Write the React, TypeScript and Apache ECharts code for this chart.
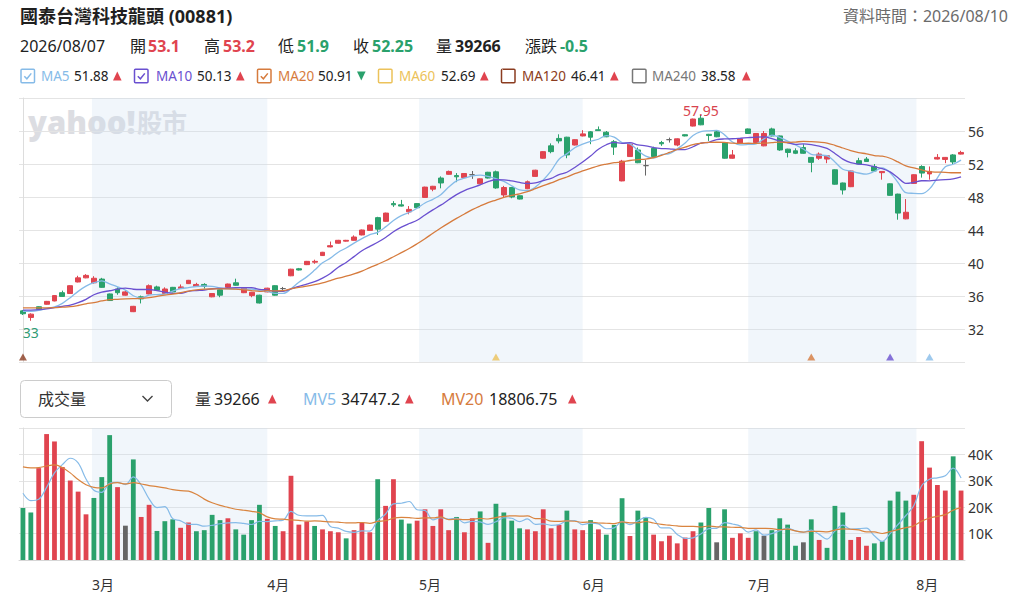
import React, { useEffect, useRef } from "react";
import * as echarts from "echarts";

// ---------- data ----------
// [open, close, lowest, highest]
const candles: number[][] = [
  [34.2, 33.85, 33.7, 34.3], [33.4, 33.8, 33.0, 33.9], [34.7, 34.4, 34.35, 34.75], [35.0, 35.35, 34.95, 35.4],
  [35.4, 36.05, 35.35, 36.1], [36.4, 35.95, 35.9, 36.65], [36.3, 37.25, 36.25, 37.3], [37.7, 38.2, 37.65, 38.45],
  [38.2, 38.5, 38.15, 38.65], [37.6, 38.15, 37.5, 38.4], [38.05, 37.05, 37.0, 38.2], [36.25, 35.45, 35.4, 36.3],
  [36.85, 36.4, 36.15, 37.05], [36.1, 36.5, 36.05, 36.7], [34.1, 34.75, 34.05, 34.8], [35.9, 35.65, 35.1, 36.05],
  [36.25, 37.25, 36.2, 37.4], [37.1, 36.7, 36.65, 37.25], [36.3, 36.85, 36.25, 37.05], [37.05, 36.5, 36.45, 37.1],
  [36.9, 37.1, 36.85, 37.4], [37.5, 37.9, 37.45, 37.95], [37.15, 37.4, 37.1, 37.6], [37.4, 37.15, 36.9, 37.55],
  [35.9, 36.3, 35.85, 36.35], [36.75, 36.1, 35.85, 36.8], [37.05, 37.45, 37.0, 37.5], [37.6, 37.3, 37.25, 38.1],
  [36.4, 36.95, 36.35, 37.0], [36.05, 36.45, 35.85, 36.5], [36.1, 35.15, 35.1, 36.15], [36.5, 36.95, 36.45, 37.0],
  [37.25, 36.1, 36.05, 37.3], [36.9, 36.9, 36.65, 37.1], [38.45, 39.25, 38.4, 39.3], [39.3, 39.15, 39.1, 39.4],
  [39.8, 40.2, 39.75, 40.25], [40.1, 40.2, 39.9, 40.4], [40.9, 41.3, 40.85, 41.35], [41.95, 42.1, 41.9, 42.6],
  [42.4, 42.75, 42.35, 42.8], [42.65, 42.75, 42.6, 42.8], [42.75, 43.15, 42.7, 43.35], [43.4, 44.0, 43.35, 44.05],
  [43.95, 44.6, 43.9, 44.65], [45.5, 44.1, 43.4, 45.6], [45.05, 46.05, 45.0, 46.1], [47.2, 47.05, 46.8, 47.5],
  [47.05, 46.9, 46.85, 47.65], [46.2, 46.5, 45.9, 46.9], [47.2, 46.7, 46.65, 47.25], [47.95, 49.2, 47.9, 49.25],
  [48.95, 49.3, 48.7, 49.35], [50.3, 49.7, 49.05, 50.5], [50.75, 51.1, 50.7, 51.2], [50.6, 50.45, 49.8, 50.9],
  [50.35, 50.85, 50.3, 50.9], [50.7, 50.7, 50.2, 51.15], [49.6, 50.2, 49.55, 50.25], [51.0, 50.3, 50.25, 51.05],
  [51.05, 49.1, 49.0, 51.2], [48.25, 49.15, 48.0, 49.35], [49.15, 48.0, 47.85, 49.2], [48.15, 47.75, 47.7, 48.2],
  [49.0, 49.85, 48.95, 50.0], [50.5, 51.25, 50.45, 51.3], [52.7, 53.5, 52.65, 53.55], [54.2, 53.5, 53.3, 54.5],
  [55.1, 54.8, 54.5, 55.6], [55.25, 53.1, 52.7, 55.3], [54.3, 54.95, 54.25, 55.0], [55.4, 55.65, 55.35, 56.1],
  [55.9, 55.25, 54.4, 56.0], [56.15, 56.05, 56.0, 56.55], [55.85, 55.3, 55.25, 56.0], [54.7, 54.05, 53.1, 54.9],
  [49.95, 52.35, 49.9, 52.5], [52.9, 54.4, 52.85, 54.6], [53.7, 52.15, 52.1, 54.0], [51.8, 51.8, 50.6, 52.5],
  [53.9, 52.9, 52.85, 54.1], [54.6, 54.45, 54.2, 54.8], [54.95, 54.95, 54.6, 55.2], [54.3, 55.05, 54.15, 55.1],
  [55.55, 55.4, 55.35, 55.6], [56.6, 57.45, 56.55, 57.5], [57.55, 56.75, 56.7, 57.95], [55.6, 55.45, 54.8, 55.65],
  [55.9, 55.3, 55.25, 56.0], [54.6, 52.7, 52.65, 54.65], [52.7, 53.1, 52.65, 53.7], [54.5, 55.05, 54.45, 55.1],
  [56.25, 55.7, 55.65, 56.3], [54.6, 55.7, 54.55, 55.75], [54.2, 55.7, 54.15, 56.0], [56.25, 55.4, 55.35, 56.4],
  [55.4, 53.7, 53.6, 55.45], [53.8, 53.4, 52.8, 53.85], [53.6, 53.3, 53.2, 53.9], [54.0, 53.3, 53.25, 54.4],
  [52.8, 52.2, 51.0, 52.85], [52.7, 53.2, 52.5, 53.4], [52.6, 53.0, 52.1, 53.05], [51.3, 49.55, 49.5, 51.35],
  [49.7, 48.85, 48.3, 49.75], [49.25, 51.15, 49.2, 51.2], [52.4, 52.0, 51.95, 52.75], [52.6, 52.3, 52.25, 52.85],
  [51.7, 51.15, 51.1, 52.0], [50.95, 51.1, 50.1, 51.15], [49.6, 48.2, 48.15, 49.65], [48.35, 46.05, 45.25, 48.4],
  [45.35, 46.15, 45.3, 47.75], [49.65, 50.7, 49.6, 50.75], [51.7, 50.9, 50.35, 51.85], [50.8, 51.1, 50.1, 51.7],
  [52.6, 52.8, 52.55, 53.2], [52.55, 52.8, 52.1, 52.85], [53.1, 52.25, 51.9, 53.2], [53.2, 53.4, 53.15, 53.6],
];

const volumes: number[] = [
  19700, 18000, 34800, 47700, 44900, 35200, 30100, 25900, 17300, 23500,
  31400, 47300, 27600, 13000, 38100, 16300, 20900, 11000, 14700, 15400,
  12200, 14200, 10900, 11300, 17100, 15100, 15800, 11600, 9600, 15100,
  20900, 15600, 12900, 10900, 31900, 13400, 14600, 12900, 11600, 10900,
  10500, 8200, 11300, 14200, 10500, 30600, 20500, 30600, 15300, 13800,
  14900, 19200, 12900, 19200, 11300, 16300, 10500, 15800, 18400, 6500,
  21300, 18000, 14900, 12000, 11600, 10900, 19200, 12000, 13300, 18700,
  11600, 11300, 15100, 11600, 9600, 13300, 23400, 9100, 18700, 16200,
  9600, 7100, 9200, 6300, 8500, 10900, 14200, 19700, 6700, 19200,
  8400, 10100, 8400, 10900, 9200, 11300, 15800, 13400, 5400, 6700,
  15400, 7600, 4600, 20500, 18000, 7600, 8700, 5400, 6300, 7100,
  22500, 25900, 22500, 24700, 45000, 35000, 28400, 26300, 39266, 26300,
];

// change vs previous close: 1 up, -1 down, 0 flat
const volumeSide: number[] = [
  -1, -1, 1, 1, 1, 1, 1, 1, 1, -1, -1, -1, 1, 0, -1, 1, 1, -1, -1, -1,
  1, 1, -1, -1, -1, -1, 1, -1, -1, -1, -1, 1, -1, 1, 1, 1, 1, -1, 1, 1,
  1, -1, 1, 1, 1, -1, 1, 1, -1, -1, 1, 1, 1, 1, 1, -1, 1, 1, -1, 1,
  -1, -1, -1, -1, 1, 1, 1, 1, 1, -1, 1, 1, -1, 1, -1, -1, -1, 1, -1, -1,
  1, 1, 1, 1, 1, 1, -1, -1, 0, -1, 1, 1, 1, -1, 0, -1, -1, -1, -1, 0,
  -1, 1, -1, -1, -1, 1, 1, 1, -1, -1, -1, -1, -1, 1, 1, 1, 1, 1, -1, 1,
];

// moving-average values visible before a full window is available
const ma5Head = [34.15, 34.15, 34.25, 34.5];
const ma10Head = [34.28, 34.3, 34.35, 34.45, 34.6, 34.75, 34.9, 35.2, 35.6];
const ma20Head = [34.55, 34.55, 34.55, 34.57, 34.6, 34.65, 34.7, 34.85, 35.05, 35.2, 35.4, 35.55, 35.6, 35.65, 35.68, 35.7, 35.8, 35.95, 36.1];
const mv5Head = [25300, 22500, 23000, 27500];
const mv20Head = [35300, 34900, 35000, 35600, 36000, 35000, 33000, 30500, 28500, 27500, 27300, 28800, 29300, 28800, 29300, 28800, 28200, 27800, 27300];

// where each calendar month starts on the trading-day axis
const monthLabels = ["3月", "4月", "5月", "6月", "7月", "8月"];
const monthStartPos = [8.75, 31, 50.25, 71, 92, 113.33];
const shadedMonths = [[0, 1], [2, 3], [4, 5]]; // pairs of monthStartPos indices

const priceTicks = [32, 36, 40, 44, 48, 52, 56];
const lowMark = { index: 1, value: 33.0, label: "33" };
const highMark = { index: 86, value: 57.95, label: "57.95" };
const maMarkers: [number, string][] = [[0, "MA120"], [60, "MA60"], [100, "MA20"], [110, "MA10"], [115, "MA5"]];

const stockTitle = "國泰台灣科技龍頭 (00881)";
const dataTime = "資料時間：2026/08/10";
const quoteDate = "2026/08/07";
const quote = { open: "53.1", high: "53.2", low: "51.9", close: "52.25", volume: "39266", change: "-0.5" };
const maLegend = [
  { name: "MA5", value: "51.88", up: true, checked: true },
  { name: "MA10", value: "50.13", up: true, checked: true },
  { name: "MA20", value: "50.91", up: false, checked: true },
  { name: "MA60", value: "52.69", up: true, checked: false },
  { name: "MA120", value: "46.41", up: true, checked: false },
  { name: "MA240", value: "38.58", up: true, checked: false },
];
const volLegend = { volume: "39266", mv5: "34747.2", mv20: "18806.75" };

// ---------- styles ----------
const RED = "#e0444f";
const GREEN = "#2aa16c";
const GRAY = "#666666";
const FONT = '"Noto Sans", "Noto Sans CJK TC", sans-serif';
const MA_COLORS: Record<string, string> = {
  MA5: "#86bbe8", MA10: "#6a50d0", MA20: "#d67b3d", MA60: "#ecc25a", MA120: "#8b3c20", MA240: "#777777",
};
const BAND = "rgba(205,220,240,0.27)";
const WATERMARK = "#dcdde2";

function movingAverage(values: number[], n: number, head: number[]): number[] {
  return values.map((_, i) => {
    if (i < n - 1) return head[i];
    let s = 0;
    for (let k = i - n + 1; k <= i; k++) s += values[k];
    return Math.round((s / n) * 1000) / 1000;
  });
}

function txt(x: number, y: number, text: string, o: any = {}) {
  return {
    type: "text",
    z: 10,
    silent: true,
    style: {
      x, y, text,
      fill: o.fill || "#222",
      fontSize: o.size || 16,
      fontWeight: o.weight || "normal",
      fontFamily: FONT,
      align: o.align || "left",
      textAlign: o.align || "left",
      verticalAlign: "middle",
      textVerticalAlign: "middle",
    },
  };
}

function tri(x: number, y: number, up: boolean, color: string) {
  const pts = up
    ? [[x, y + 4.5], [x + 8.6, y + 4.5], [x + 4.3, y - 4.5]]
    : [[x, y - 4.5], [x + 8.6, y - 4.5], [x + 4.3, y + 4.5]];
  return { type: "polygon", z: 10, silent: true, shape: { points: pts }, style: { fill: color } };
}

function buildGraphics() {
  const g: any[] = [];
  // watermark
  g.push({ ...txt(28, 122, "yahoo!", { size: 31, weight: 900, fill: WATERMARK }), z: 0 });
  g.push({ ...txt(137, 122, "股市", { size: 25, weight: "bold", fill: WATERMARK }), z: 0 });
  // header
  g.push(txt(20, 16, stockTitle, { size: 18, weight: "bold", fill: "#1f1f1f" }));
  g.push(txt(1008, 16, dataTime, { size: 16, fill: "#6b6b6b", align: "right" }));
  const y2 = 46;
  g.push(txt(20, y2, quoteDate, { fill: "#222" }));
  const row: [number, string, number, string, string][] = [
    [130, "開", 148, quote.open, RED],
    [204, "高", 223, quote.high, RED],
    [278, "低", 297, quote.low, GREEN],
    [353, "收", 372, quote.close, GREEN],
    [436, "量", 455, quote.volume, "#222"],
    [525, "漲跌", 560, quote.change, GREEN],
  ];
  row.forEach(([lx, l, vx, v, c]) => {
    g.push(txt(lx, y2, l, { fill: "#222" }));
    g.push(txt(vx, y2, v, { fill: c, weight: "bold" }));
  });
  // MA legend
  const y3 = 76;
  const boxX = [21, 134.5, 257.5, 378.5, 501.5, 632.5];
  const nameX = [41, 156, 278, 399, 522, 652];
  const valX = [74, 197, 318, 441, 571, 701];
  const arrX = [113, 236, 357, 480, 610, 742];
  maLegend.forEach((m, i) => {
    const c = MA_COLORS[m.name];
    g.push({
      type: "rect", z: 10, silent: true,
      shape: { x: boxX[i], y: y3 - 6.8, width: 13.5, height: 13.5, r: 1 },
      style: { fill: "#fff", stroke: c, lineWidth: 1.5 },
    });
    if (m.checked) {
      g.push({
        type: "polyline", z: 11, silent: true,
        shape: { points: [[boxX[i] + 3.3, y3 + 0.2], [boxX[i] + 5.9, y3 + 2.8], [boxX[i] + 10.3, y3 - 2.6]] },
        style: { stroke: c, lineWidth: 1.5, fill: null },
      });
    }
    g.push(txt(nameX[i], y3, m.name, { size: 13.5, fill: c }));
    g.push(txt(valX[i], y3, m.value, { size: 13.5, fill: "#222" }));
    g.push(tri(arrX[i], y3, m.up, m.up ? RED : GREEN));
  });
  // volume header
  const yv = 399;
  g.push({
    type: "rect", z: 10, silent: true,
    shape: { x: 20.5, y: 380.5, width: 151, height: 37, r: 4 },
    style: { fill: "#fff", stroke: "#cccccc", lineWidth: 1 },
  });
  g.push(txt(38, yv, "成交量", { fill: "#333" }));
  g.push({
    type: "polyline", z: 11, silent: true,
    shape: { points: [[142.5, 396], [147.5, 401], [152.5, 396]] },
    style: { stroke: "#444", lineWidth: 1.4, fill: null },
  });
  g.push(txt(195, yv, "量", { fill: "#333" }));
  g.push(txt(214, yv, volLegend.volume, { fill: "#222" }));
  g.push(tri(268, yv, true, RED));
  g.push(txt(303, yv, "MV5", { fill: MA_COLORS.MA5 }));
  g.push(txt(341, yv, volLegend.mv5, { fill: "#222" }));
  g.push(tri(405, yv, true, RED));
  g.push(txt(441, yv, "MV20", { fill: MA_COLORS.MA20 }));
  g.push(txt(489, yv, volLegend.mv20, { fill: "#222" }));
  g.push(tri(568, yv, true, RED));
  return g;
}

function buildOption() {
  const n = candles.length;
  const cats = candles.map((_, i) => String(i));
  const closes = candles.map((c) => c[1]);
  const ma5 = movingAverage(closes, 5, ma5Head);
  const ma10 = movingAverage(closes, 10, ma10Head);
  const ma20 = movingAverage(closes, 20, ma20Head);
  const mv5 = movingAverage(volumes, 5, mv5Head);
  const mv20 = movingAverage(volumes, 20, mv20Head);

  const candleData = candles.map((c) =>
    c[0] === c[1]
      ? { value: c, itemStyle: { color: GRAY, color0: GRAY, borderColor: GRAY, borderColor0: GRAY } }
      : c
  );
  const volData = volumes.map((v, i) => ({
    value: v,
    itemStyle: { color: volumeSide[i] > 0 ? RED : volumeSide[i] < 0 ? GREEN : GRAY },
  }));
  const bandAreas = shadedMonths.map(([a, b]) => [{ xAxis: monthStartPos[a] }, { xAxis: monthStartPos[b] }]);

  const lineBase = { type: "line", symbol: "none", showSymbol: false, smooth: 0.35, silent: true };
  const left = 19;
  const right = 50;

  return {
    animation: false,
    backgroundColor: "#ffffff",
    textStyle: { fontFamily: FONT },
    grid: [
      { left, right, top: 98, height: 264 },
      { left, right, top: 428, height: 132 },
    ],
    xAxis: [
      { type: "category", gridIndex: 0, position: "bottom", data: cats, boundaryGap: true, show: false },
      { type: "category", gridIndex: 1, position: "top", data: cats, boundaryGap: true, show: false },
      { type: "value", gridIndex: 0, position: "top", min: -0.5, max: n - 0.5, show: false },
      {
        type: "value", gridIndex: 1, position: "bottom", min: -0.5, max: n - 0.5,
        axisLine: { show: true, lineStyle: { color: "#d6d6d6" } },
        axisTick: { show: false },
        splitLine: { show: false },
        axisLabel: {
          customValues: monthStartPos,
          formatter: (v: number) => {
            const k = monthStartPos.findIndex((p) => Math.abs(p - v) < 0.01);
            return k >= 0 ? monthLabels[k] : "";
          },
          align: "left", color: "#333", fontSize: 14, margin: 17, fontFamily: FONT,
        },
      },
    ],
    yAxis: [
      {
        type: "value", gridIndex: 0, position: "right", min: 28, max: 60, interval: 4,
        axisLine: { show: true, lineStyle: { color: "#dddddd" } },
        axisTick: { show: false },
        splitLine: { show: true, lineStyle: { color: "#e4e4e4" } },
        axisLabel: {
          color: "#333", fontSize: 14, margin: 3, fontFamily: FONT,
          showMinLabel: false, showMaxLabel: false,
          formatter: (v: number) => (priceTicks.includes(v) ? String(v) : ""),
        },
      },
      {
        type: "value", gridIndex: 1, position: "right", min: 0, max: 50000, interval: 10000,
        axisLine: { show: true, lineStyle: { color: "#dddddd" } },
        axisTick: { show: false },
        splitLine: { show: true, lineStyle: { color: "#e4e4e4" } },
        axisLabel: {
          color: "#333", fontSize: 14, margin: 3, fontFamily: FONT,
          showMinLabel: false, showMaxLabel: false,
          formatter: (v: number) => (v > 0 && v < 50000 ? v / 1000 + "K" : ""),
        },
      },
    ],
    series: [
      {
        type: "line", xAxisIndex: 2, yAxisIndex: 0, data: [[0, 28]], symbol: "none", showSymbol: false,
        lineStyle: { opacity: 0 }, silent: true, z: 0,
        markArea: { silent: true, z: 0, itemStyle: { color: BAND }, data: bandAreas },
      },
      {
        type: "line", xAxisIndex: 3, yAxisIndex: 1, data: [[0, 0]], symbol: "none", showSymbol: false,
        lineStyle: { opacity: 0 }, silent: true, z: 0,
        markArea: { silent: true, z: 0, itemStyle: { color: BAND }, data: bandAreas },
      },
      {
        type: "candlestick", name: "K", xAxisIndex: 0, yAxisIndex: 0, data: candleData, barWidth: 5.4,
        itemStyle: { color: RED, color0: GREEN, borderColor: RED, borderColor0: GREEN, borderWidth: 1 },
        markPoint: {
          symbol: "circle", symbolSize: 1, silent: true,
          itemStyle: { color: "rgba(0,0,0,0)" },
          data: [
            {
              coord: [lowMark.index, lowMark.value],
              label: { show: true, formatter: lowMark.label, position: "inside", offset: [0, 12], color: "#2f9c74", fontSize: 14, fontFamily: FONT },
            },
            {
              coord: [highMark.index, highMark.value],
              label: { show: true, formatter: highMark.label, position: "inside", offset: [0, -4], color: "#d8434e", fontSize: 14, fontFamily: FONT },
            },
          ],
        },
      },
      { ...lineBase, name: "MA5", xAxisIndex: 0, yAxisIndex: 0, data: ma5, lineStyle: { color: MA_COLORS.MA5, width: 1.3 }, z: 3 },
      { ...lineBase, name: "MA10", xAxisIndex: 0, yAxisIndex: 0, data: ma10, lineStyle: { color: MA_COLORS.MA10, width: 1.3 }, z: 3 },
      { ...lineBase, name: "MA20", xAxisIndex: 0, yAxisIndex: 0, data: ma20, lineStyle: { color: MA_COLORS.MA20, width: 1.3 }, z: 3 },
      {
        type: "scatter", xAxisIndex: 0, yAxisIndex: 0, symbol: "triangle", symbolSize: [8, 7], silent: true, z: 4,
        data: maMarkers.map(([i, m]) => ({ value: [i, 28.6], itemStyle: { color: MA_COLORS[m] } })),
      },
      { type: "bar", name: "Volume", xAxisIndex: 1, yAxisIndex: 1, data: volData, barWidth: 4.8, silent: true },
      { ...lineBase, name: "MV5", xAxisIndex: 1, yAxisIndex: 1, data: mv5, lineStyle: { color: MA_COLORS.MA5, width: 1.2 }, z: 3 },
      { ...lineBase, name: "MV20", xAxisIndex: 1, yAxisIndex: 1, data: mv20, lineStyle: { color: "#d9843f", width: 1.2 }, z: 3 },
    ],
    graphic: buildGraphics(),
  };
}

export default function App() {
  const ref = useRef<HTMLDivElement>(null);
  useEffect(() => {
    document.body.style.margin = "0";
    if (!ref.current) return;
    const chart = echarts.init(ref.current, undefined, { renderer: "svg", width: 1015, height: 599 });
    chart.setOption(buildOption() as any);
    return () => chart.dispose();
  }, []);
  return <div ref={ref} style={{ width: 1015, height: 599, background: "#fff" }} />;
}
